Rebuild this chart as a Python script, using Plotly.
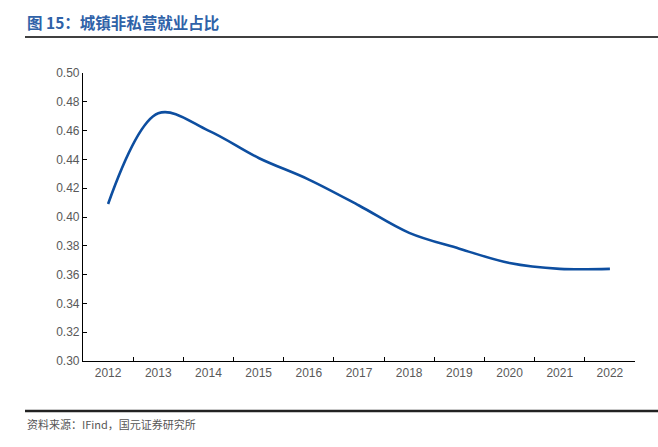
import plotly.graph_objects as go

years = ["2012", "2013", "2014", "2015", "2016", "2017", "2018", "2019", "2020", "2021", "2022"]
share = [0.409, 0.472, 0.460, 0.441, 0.426, 0.408, 0.389, 0.378, 0.368, 0.364, 0.364]
y_ticks = [0.30, 0.32, 0.34, 0.36, 0.38, 0.40, 0.42, 0.44, 0.46, 0.48, 0.50]

fig = go.Figure()
fig.add_trace(go.Scatter(
    x=years, y=share, mode="lines",
    line=dict(color="#0D4EA0", width=2.6, shape="spline", smoothing=1.0),
    showlegend=False, hoverinfo="skip",
))

fig.update_layout(
    width=658, height=447,
    margin=dict(l=83, r=23, t=73, b=86),
    paper_bgcolor="white", plot_bgcolor="white",
    font=dict(family="Liberation Sans, Arial, sans-serif", size=12, color="#595959"),
    xaxis=dict(
        type="category", tickson="boundaries", ticks="inside", ticklen=4,
        range=[-0.5, 10.5], automargin=False,
        tickcolor="black", showline=True, linecolor="black", linewidth=1.2,
        showgrid=False, zeroline=False, tickfont=dict(size=12, color="#595959"),
    ),
    yaxis=dict(
        range=[0.30, 0.50], tickvals=y_ticks, tickformat=".2f", automargin=False,
        ticks="inside", ticklen=4, tickcolor="black",
        showline=True, linecolor="black", linewidth=1.2,
        showgrid=False, zeroline=False, tickfont=dict(size=12, color="#595959"),
    ),
    shapes=[
        dict(type="line", xref="paper", yref="paper", x0=(25 - 83) / 552, x1=(658 - 83) / 552,
             y0=(447 - 86 - 37) / 288, y1=(447 - 86 - 37) / 288,
             line=dict(color="black", width=1.5)),
        dict(type="line", xref="paper", yref="paper", x0=(25 - 83) / 552, x1=(658 - 83) / 552,
             y0=(447 - 86 - 411) / 288, y1=(447 - 86 - 411) / 288,
             line=dict(color="#222222", width=2.5)),
    ],
    annotations=[
        dict(text="<b>图 15：城镇非私营就业占比</b>", xref="paper", yref="paper",
             x=(25 - 83) / 552, y=(447 - 86 - 22) / 288, xanchor="left", yanchor="middle",
             showarrow=False,
             font=dict(family="Noto Sans CJK SC", size=15.5, color="#2F62A8")),
        dict(text="资料来源：IFind，国元证券研究所", xref="paper", yref="paper",
             x=(25 - 83) / 552, y=(447 - 86 - 424) / 288, xanchor="left", yanchor="middle",
             showarrow=False,
             font=dict(family="Noto Sans CJK SC", size=11, color="#555555")),
    ],
)

fig.write_html("out.html", config={"displayModeBar": False},
               post_script="document.body.style.margin='0';document.body.style.overflow='hidden';")
